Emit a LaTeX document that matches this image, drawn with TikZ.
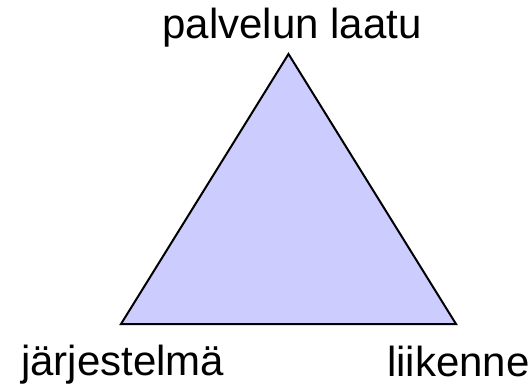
\documentclass[tikz,border=0pt]{standalone}
\usepackage{fontspec}
\setmainfont{Liberation Sans}
\begin{document}
\begin{tikzpicture}[x=1pt,y=1pt,
  lbl/.style={inner sep=0pt, font=\fontsize{42}{48}\selectfont},
  tri/.style={draw=black, line width=2pt, fill={rgb,255:red,204;green,204;blue,255}, line join=miter}]
\useasboundingbox (0,0) rectangle (532,388);
\coordinate (top) at (288.5,334);
\coordinate (bl) at (121,64);
\coordinate (br) at (456,64);
\draw[tri] (bl) -- (br) -- (top) -- cycle;
\node[lbl, anchor=base] (q) at (292,349) {palvelun laatu};
\node[lbl, anchor=base west] (s) at (21,13) {järjestelmä};
\node[lbl, anchor=base west] (l) at (387,12) {liikenne};
\end{tikzpicture}
\end{document}
